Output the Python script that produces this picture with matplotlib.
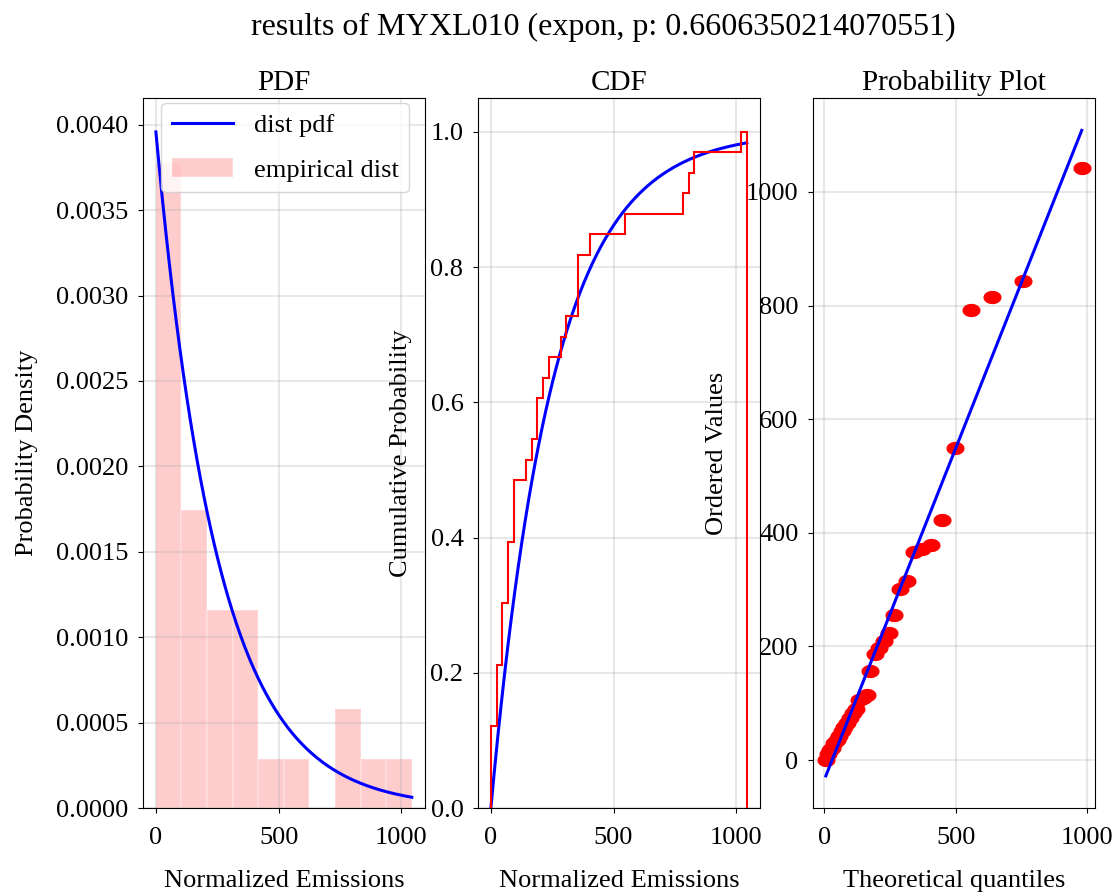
import numpy as np
import matplotlib
matplotlib.use("Agg")
import matplotlib.pyplot as plt
from matplotlib.path import Path

plt.rcParams['font.family'] = ['Liberation Serif', 'DejaVu Serif']
plt.rcParams['font.size'] = 19
plt.rcParams['xtick.major.pad'] = 10
plt.rcParams['ytick.major.pad'] = 7

# normalized emissions of MYXL010 (33 samples, sorted)
emissions = [0, 10, 17, 21, 30, 35, 42, 52, 58, 65, 75, 83, 90,
             106, 109, 114, 156, 187, 198, 210, 224, 256, 302, 316,
             366, 372, 378, 423, 550, 792, 816, 843, 1043]
dist_name = "expon"
p_value = 0.6606350214070551
station = "MYXL010"
pdf_bins = 10
cdf_bins = 44

data = np.array(emissions, dtype=float)
n = len(data)

# exponential fit (MLE): loc = min, scale = mean - min
loc = data.min()
scale = data.mean() - loc
x = np.linspace(data.min(), data.max(), 300)
pdf = np.exp(-(x - loc) / scale) / scale
cdf = 1 - np.exp(-(x - loc) / scale)

# probability plot quantiles (Filliben order statistic medians)
m = (np.arange(1, n + 1) - 0.3175) / (n + 0.365)
m[-1] = 0.5 ** (1.0 / n)
m[0] = 1 - m[-1]
osm = loc - scale * np.log(1 - m)
osr = np.sort(data)
slope, intercept = np.polyfit(osm, osr, 1)

# slightly wide ellipse marker like the stretched original
t = np.linspace(0, 2 * np.pi, 40)
ellipse = Path(np.column_stack([1.4 * np.cos(t), np.sin(t)]), closed=True)

fig, axes = plt.subplots(1, 3, figsize=(11.18, 8.92), dpi=100)
fig.subplots_adjust(left=0.128, right=0.979, bottom=0.094, top=0.89, wspace=0.19)
fig.suptitle("results of %s (%s, p: %s)" % (station, dist_name, repr(p_value)),
             fontsize=23, x=0.54, y=0.985)

ax = axes[0]
ax.plot(x, pdf, color='blue', lw=2.2, label='dist pdf')
ax.hist(data, bins=pdf_bins, density=True, color='red', alpha=0.2,
        edgecolor='white', linewidth=1.5, label='empirical dist')
ax.set_title('PDF', fontsize=21)
ax.set_xlabel('Normalized Emissions', fontsize=19, labelpad=15)
ax.set_ylabel('Probability Density', fontsize=19, labelpad=13)
ax.yaxis.set_major_formatter(matplotlib.ticker.FormatStrFormatter('%.4f'))
ax.legend(loc='upper right', bbox_to_anchor=(0.945, 0.993), borderaxespad=0,
          fontsize=19, labelspacing=0.8, handlelength=2.3)
ax.grid(True, alpha=0.3, lw=1.5)

ax = axes[1]
ax.plot(x, cdf, color='blue', lw=2.2)
ax.hist(data, bins=cdf_bins, density=True, cumulative=True, histtype='step',
        color='red', lw=1.5)
ax.set_title('CDF', fontsize=21)
ax.set_xlabel('Normalized Emissions', fontsize=19, labelpad=15)
ax.set_ylabel('Cumulative Probability', fontsize=19, labelpad=13)
ax.grid(True, alpha=0.3, lw=1.5)

ax = axes[2]
ax.plot(osm, osr, ls='none', marker=ellipse, color='red', markersize=12)
ax.plot(osm, slope * osm + intercept, color='blue', lw=2.2)
ax.set_title('Probability Plot', fontsize=21)
ax.set_xlabel('Theoretical quantiles', fontsize=19, labelpad=15)
ax.set_ylabel('Ordered Values', fontsize=19, labelpad=13)
ax.grid(True, alpha=0.3, lw=1.5)

for ax in axes:
    ax.set_xticks([0, 500, 1000])

fig.savefig('out.png', dpi=100)
